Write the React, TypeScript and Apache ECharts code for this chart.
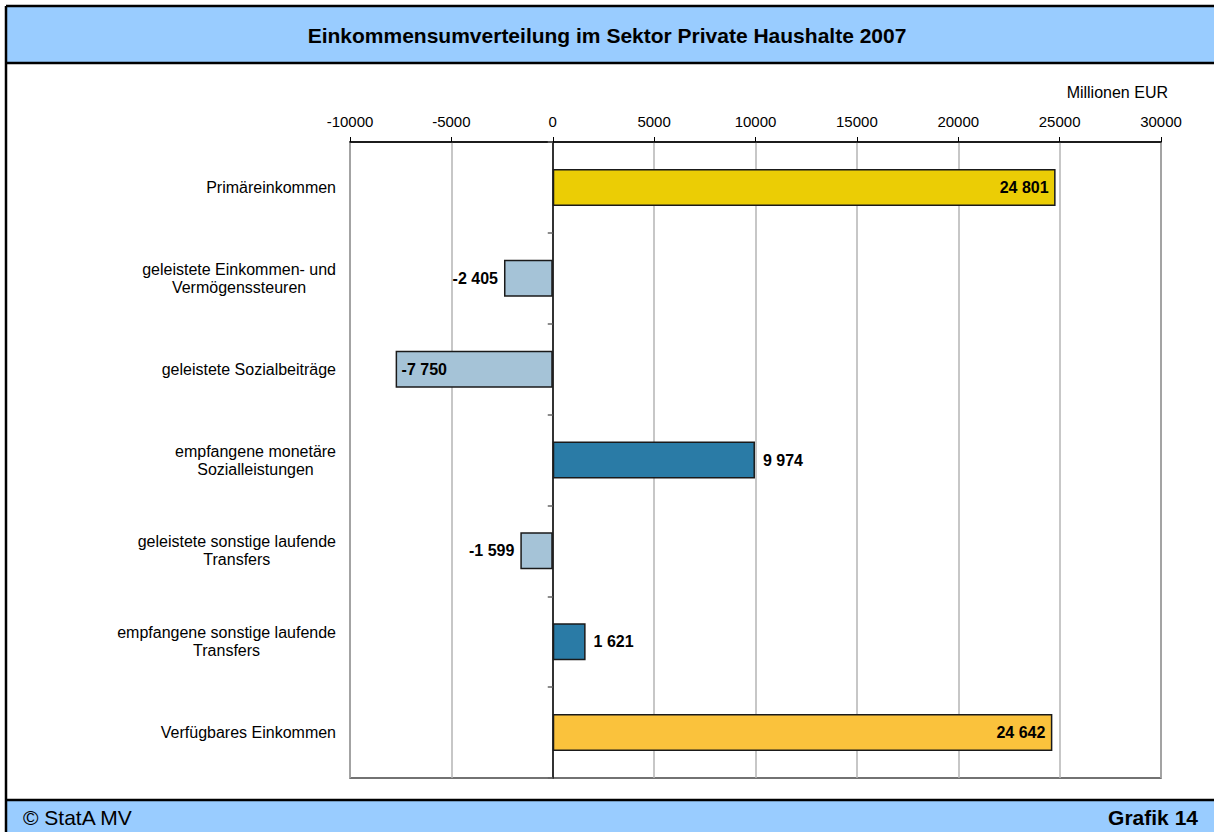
import React, { useEffect, useRef } from "react";
import * as echarts from "echarts";

const FONT = "'Liberation Sans', Arial, Helvetica, sans-serif";

const titleText = "Einkommensumverteilung im Sektor Private Haushalte 2007";
const unitText = "Millionen EUR";
const sourceText = "© StatA MV";
const chartNo = "Grafik 14";

const categories = [
  "Primäreinkommen",
  "geleistete Einkommen- und\nVermögenssteuren",
  "geleistete Sozialbeiträge",
  "empfangene monetäre\nSozialleistungen",
  "geleistete sonstige laufende\nTransfers",
  "empfangene sonstige laufende\nTransfers",
  "Verfügbares Einkommen",
];
const values = [24801, -2405, -7750, 9974, -1599, 1621, 24642];
const barColors = ["#EBCD05", "#A5C3D7", "#A5C3D7", "#2A7BA6", "#A5C3D7", "#2A7BA6", "#FAC23C"];

const xMin = -10000;
const xMax = 30000;
const xStep = 5000;

function fmt(v: number): string {
  const s = Math.abs(Math.round(v)).toString().replace(/\B(?=(\d{3})+(?!\d))/g, " ");
  return (v < 0 ? "-" : "") + s;
}

function labelFor(v: number) {
  if (v > 20000) return { position: "insideRight", distance: 7 };
  if (v < -5000) return { position: "insideLeft", distance: 6 };
  if (v >= 0) return { position: "right", distance: 8 };
  return { position: "left", distance: 6 };
}

export default function App() {
  const ref = useRef<HTMLDivElement>(null);
  useEffect(() => {
    if (!ref.current) return;
    const chart = echarts.init(ref.current, undefined, { renderer: "svg" });
    const data = values.map((v, i) => ({
      value: v,
      itemStyle: { color: barColors[i] },
      label: labelFor(v),
    }));
    chart.setOption({
      animation: false,
      backgroundColor: "#ffffff",
      textStyle: { fontFamily: FONT },
      grid: {
        left: 350,
        top: 142,
        width: 811,
        height: 636,
        containLabel: false,
        outerBoundsMode: "none",
        show: true,
        borderColor: "#444",
        borderWidth: 1.5,
        backgroundColor: "transparent",
      },
      xAxis: {
        type: "value",
        position: "top",
        min: xMin,
        max: xMax,
        interval: xStep,
        axisLine: { show: true, onZero: false, lineStyle: { color: "#000", width: 1.5 } },
        axisTick: { show: true, length: 5, lineStyle: { color: "#000", width: 1 } },
        axisLabel: {
          color: "#000",
          fontSize: 15,
          fontFamily: FONT,
          margin: 13,
          formatter: (v: number) => String(v),
        },
        splitLine: { show: true, lineStyle: { color: "#b4b4b4", width: 1.5 } },
      },
      yAxis: [
        {
          type: "category",
          position: "left",
          inverse: true,
          data: categories,
          axisLine: { show: false, onZero: false },
          axisTick: { show: false },
          splitLine: { show: false },
          axisLabel: {
            interval: 0,
            margin: 14,
            color: "#000",
            fontSize: 16,
            fontFamily: FONT,
            lineHeight: 18,
            formatter: (val: string) =>
              val
                .split("\n")
                .map((l) => `{c|${l}}`)
                .join("\n"),
            rich: {
              c: { align: "center", fontSize: 16, lineHeight: 18, color: "#000", fontFamily: FONT },
            },
          },
        },
        {
          type: "category",
          position: "left",
          inverse: true,
          data: categories,
          axisLine: { show: true, onZero: true, lineStyle: { color: "#000", width: 1.5 } },
          axisTick: { show: true, interval: 0, length: 5, lineStyle: { color: "#666", width: 1.5 } },
          axisLabel: { show: false },
          splitLine: { show: false },
        },
      ],
      series: [
        {
          type: "bar",
          yAxisIndex: 0,
          data,
          barWidth: 37,
          itemStyle: { borderColor: "#1a1a1a", borderWidth: 1.5 },
          label: {
            show: true,
            color: "#000",
            fontSize: 16,
            fontWeight: "bold",
            fontFamily: FONT,
            formatter: (p: any) => fmt(p.value),
          },
        },
      ],
      graphic: [
        {
          type: "rect",
          z: -10,
          shape: { x: 6, y: 6, width: 1240, height: 57 },
          style: { fill: "#99CCFF" },
        },
        {
          type: "rect",
          z: -10,
          shape: { x: 6, y: 800, width: 1240, height: 60 },
          style: { fill: "#99CCFF" },
        },
        {
          type: "line",
          z: 100,
          shape: { x1: 6, y1: 6, x2: 1240, y2: 6 },
          style: { stroke: "#000", lineWidth: 2.5 },
        },
        {
          type: "line",
          z: 100,
          shape: { x1: 6, y1: 6, x2: 6, y2: 860 },
          style: { stroke: "#000", lineWidth: 2.5 },
        },
        {
          type: "line",
          z: 100,
          shape: { x1: 6, y1: 63, x2: 1240, y2: 63 },
          style: { stroke: "#000", lineWidth: 2.5 },
        },
        {
          type: "line",
          z: 100,
          shape: { x1: 6, y1: 800, x2: 1240, y2: 800 },
          style: { stroke: "#000", lineWidth: 2.5 },
        },
        {
          type: "text",
          z: 101,
          x: 607,
          y: 35,
          style: {
            text: titleText,
            fill: "#000",
            font: `bold 21px ${FONT}`,
            textAlign: "center",
            textVerticalAlign: "middle",
          },
        },
        {
          type: "text",
          z: 101,
          x: 1168,
          y: 92,
          style: {
            text: unitText,
            fill: "#000",
            font: `16px ${FONT}`,
            textAlign: "right",
            textVerticalAlign: "middle",
          },
        },
        {
          type: "text",
          z: 101,
          x: 23,
          y: 817,
          style: {
            text: sourceText,
            fill: "#000",
            font: `21px ${FONT}`,
            textAlign: "left",
            textVerticalAlign: "middle",
          },
        },
        {
          type: "text",
          z: 101,
          x: 1198,
          y: 817,
          style: {
            text: chartNo,
            fill: "#000",
            font: `bold 21px ${FONT}`,
            textAlign: "right",
            textVerticalAlign: "middle",
          },
        },
      ],
    });
    return () => chart.dispose();
  }, []);
  return (
    <div
      ref={ref}
      style={{ position: "absolute", left: 0, top: 0, width: 1214, height: 832 }}
    />
  );
}
